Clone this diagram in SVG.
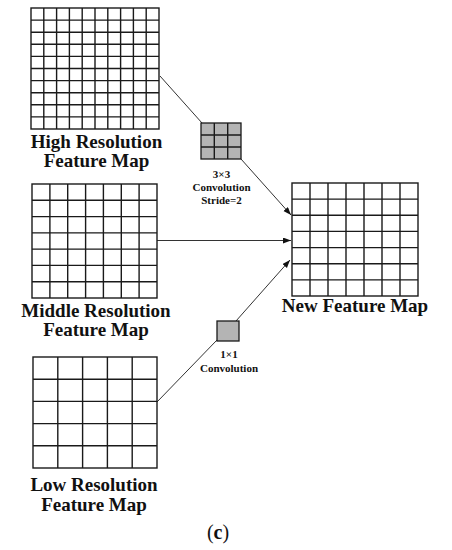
<svg xmlns="http://www.w3.org/2000/svg" width="452" height="550" viewBox="0 0 452 550">
<style>
.grid{fill:#fff;stroke:#1a1a1a;stroke-width:1.4}
.gl{stroke:#1a1a1a;stroke-width:1.4;fill:none}
.kern{fill:#b4b4b4;stroke:#1a1a1a;stroke-width:1.3}
.conn{stroke:#333;stroke-width:1;fill:none}
.lbl{font-family:"Liberation Serif","Times New Roman",serif;font-weight:bold;font-size:19px;fill:#111;text-anchor:middle}
.sm{font-family:"Liberation Serif","Times New Roman",serif;font-weight:bold;font-size:11px;fill:#111;text-anchor:middle}
</style>
<defs>
<marker id="ah" markerUnits="userSpaceOnUse" markerWidth="9" markerHeight="7" refX="8" refY="3" orient="auto">
<path d="M0,0 L8,3 L0,6 z" fill="#111"/>
</marker>
</defs>
<rect width="452" height="550" fill="#fff"/>

<g id="connectors">
<line class="conn" x1="160" y1="76" x2="202" y2="123"/>
<line class="conn" x1="241" y1="159" x2="291" y2="215" marker-end="url(#ah)"/>
<line class="conn" x1="157" y1="240.5" x2="291" y2="240.5" marker-end="url(#ah)"/>
<line class="conn" x1="157" y1="402" x2="217" y2="340"/>
<line class="conn" x1="236" y1="321" x2="290" y2="260" marker-end="url(#ah)"/>
</g>

<g id="high-res">
<rect class="grid" x="31" y="8" width="128" height="121"/>
<path class="gl" d="M43.8,8V129M56.6,8V129M69.4,8V129M82.2,8V129M95,8V129M107.8,8V129M120.6,8V129M133.4,8V129M146.2,8V129
M31,20.1H159M31,32.2H159M31,44.3H159M31,56.4H159M31,68.5H159M31,80.6H159M31,92.7H159M31,104.8H159M31,116.9H159"/>
<text class="lbl" x="96.5" y="148">High Resolution</text>
<text class="lbl" x="96.5" y="167">Feature Map</text>
</g>

<g id="conv3x3">
<rect class="kern" x="201" y="123" width="40" height="36"/>
<path class="gl" d="M214.3,123V159M227.7,123V159M201,135H241M201,147H241"/>
<text class="sm" x="221.5" y="178">3×3</text>
<text class="sm" x="221.5" y="191">Convolution</text>
<text class="sm" x="221.5" y="204">Stride=2</text>
</g>

<g id="middle-res">
<rect class="grid" x="32" y="184" width="125" height="114"/>
<path class="gl" d="M49.9,184V298M67.7,184V298M85.6,184V298M103.4,184V298M121.3,184V298M139.1,184V298
M32,200.3H157M32,216.6H157M32,232.9H157M32,249.1H157M32,265.4H157M32,281.7H157"/>
<text class="lbl" x="96" y="317">Middle Resolution</text>
<text class="lbl" x="96" y="336">Feature Map</text>
</g>

<g id="conv1x1">
<rect class="kern" x="217" y="321" width="22" height="20"/>
<text class="sm" x="229" y="358">1×1</text>
<text class="sm" x="229" y="372">Convolution</text>
</g>

<g id="low-res">
<rect class="grid" x="33" y="357" width="124" height="111"/>
<path class="gl" d="M57.8,357V468M82.6,357V468M107.4,357V468M132.2,357V468
M33,379.2H157M33,401.4H157M33,423.6H157M33,445.8H157"/>
<text class="lbl" x="94" y="491">Low Resolution</text>
<text class="lbl" x="94" y="511">Feature Map</text>
</g>

<g id="new-map">
<rect class="grid" x="292" y="183" width="126" height="113"/>
<path class="gl" d="M310,183V296M328,183V296M346,183V296M364,183V296M382,183V296M400,183V296
M292,199.1H418M292,215.3H418M292,231.4H418M292,247.6H418M292,263.7H418M292,279.9H418"/>
<text class="lbl" x="355" y="312">New Feature Map</text>
</g>

<text x="218" y="539" font-family="'Liberation Serif','Times New Roman',serif" font-size="20" text-anchor="middle" fill="#111">(<tspan font-weight="bold">c</tspan>)</text>
</svg>
